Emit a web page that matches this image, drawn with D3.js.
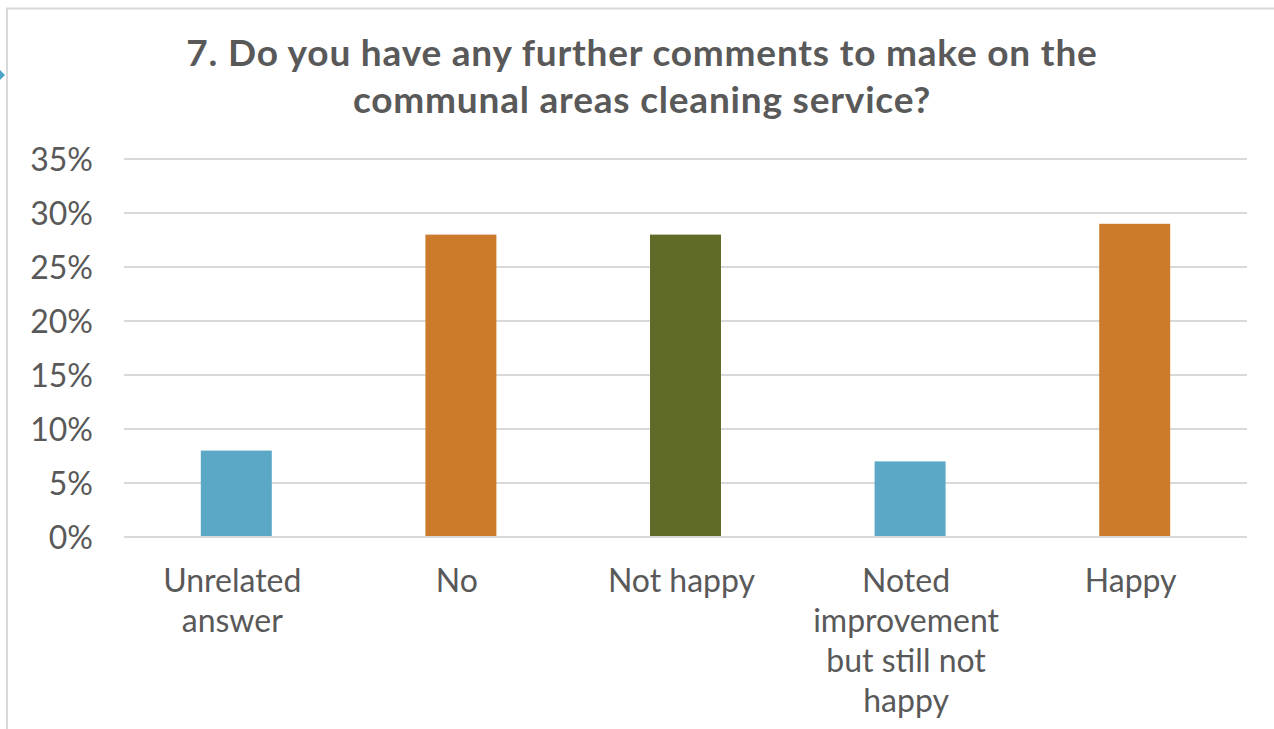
<!DOCTYPE html>
<html>
<head>
<meta charset="utf-8">
<script src="https://cdn.jsdelivr.net/npm/d3@7/dist/d3.min.js"></script>
<style>
  html, body { margin: 0; padding: 0; background: #fff; }
  svg { display: block; }
</style>
</head>
<body>
<svg id="chart" width="1274" height="729"></svg>
<script>
const categories = [
  ["Unrelated", "answer"],
  ["No"],
  ["Not happy"],
  ["Noted", "improvement", "but still not", "happy"],
  ["Happy"]
];
const values = [8, 28, 28, 7, 29];
const barColors = ["#5ba7c6", "#cc7a2c", "#5f6b26", "#5ba7c6", "#cc7a2c"];
const tickValues = [0, 5, 10, 15, 20, 25, 30, 35];
const titleLines = ["7. Do you have any further comments to make on the", "communal areas cleaning service?"];

const svg = d3.select("#chart");
const font = "Lato, 'Open Sans', sans-serif";
const textColor = "#595959";

// chart border
svg.append("rect")
  .attr("x", 7).attr("y", 8.5)
  .attr("width", 1290).attr("height", 760)
  .attr("fill", "none").attr("stroke", "#d9d9d9").attr("stroke-width", 2);

// small selection marker
svg.append("polygon")
  .attr("points", "-2,68 5,75 -2,82")
  .attr("fill", "#4fa3c9");

const x = d3.scaleBand()
  .domain(d3.range(values.length))
  .range([124, 1247])
  .paddingInner(0.684).paddingOuter(0.342);
const y = d3.scaleLinear().domain([0, 35]).range([537, 159]);

// gridlines
svg.append("g").selectAll("line").data(tickValues).join("line")
  .attr("x1", 124).attr("x2", 1247)
  .attr("y1", d => y(d)).attr("y2", d => y(d))
  .attr("stroke", "#d9d9d9").attr("stroke-width", 2);

// y axis labels
const yAxis = d3.axisLeft(y).tickValues(tickValues).tickFormat(d => d + "%").tickSize(0).tickPadding(0);
const yg = svg.append("g").attr("transform", "translate(93,0)").call(yAxis);
yg.select(".domain").remove();
yg.selectAll("text")
  .attr("font-family", font).attr("font-size", 32).attr("fill", textColor)
  .attr("dy", "0.35em");

// bars
svg.append("g").selectAll("rect").data(values).join("rect")
  .attr("x", (d, i) => x(i))
  .attr("width", x.bandwidth())
  .attr("y", d => y(d))
  .attr("height", d => y(0) - y(d))
  .attr("fill", (d, i) => barColors[i]);

// redraw baseline on top
svg.append("line")
  .attr("x1", 124).attr("x2", 1247).attr("y1", y(0)).attr("y2", y(0))
  .attr("stroke", "#d9d9d9").attr("stroke-width", 2);

// category labels
const cg = svg.append("g");
categories.forEach((lines, i) => {
  const cx = x(i) + x.bandwidth() / 2 - 4;
  const t = cg.append("text")
    .attr("x", cx)
    .attr("y", 592)
    .attr("text-anchor", "middle")
    .attr("font-family", font).attr("font-size", 32).attr("fill", textColor);
  lines.forEach((ln, j) => {
    t.append("tspan").attr("x", cx).attr("dy", j === 0 ? 0 : 40).text(ln);
  });
});

// title
const tt = svg.append("text")
  .attr("text-anchor", "middle")
  .attr("font-family", font).attr("font-size", 37).attr("font-weight", "bold")
  .attr("letter-spacing", 0.8)
  .attr("fill", textColor);
titleLines.forEach((ln, j) => {
  tt.append("tspan").attr("x", 642).attr("y", 66 + j * 47).text(ln);
});
</script>
</body>
</html>
